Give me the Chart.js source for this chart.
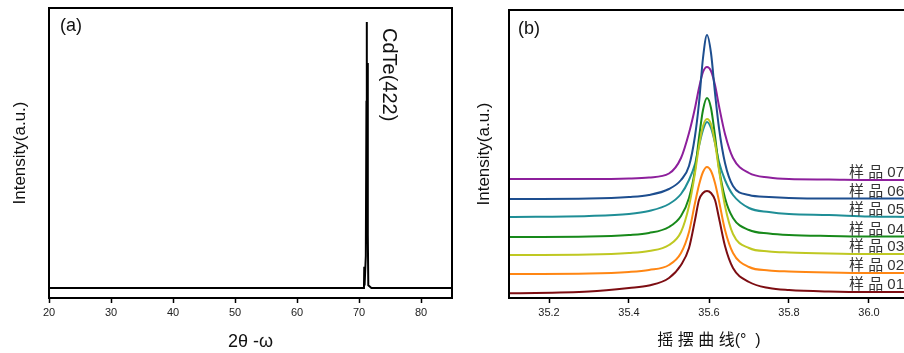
<!DOCTYPE html>
<html>
<head>
<meta charset="utf-8">
<script src="https://cdn.jsdelivr.net/npm/chart.js@4.4.1/dist/chart.umd.min.js"></script>
<style>
  html, body { margin: 0; padding: 0; background: #fff; overflow: hidden; width: 904px; height: 353px; }
  .box { position: absolute; top: 0; height: 353px; }
  #boxA { left: 0; width: 470px; }
  #boxB { left: 470px; width: 460px; }
</style>
</head>
<body>
<div class="box" id="boxA"><canvas id="chartA"></canvas></div>
<div class="box" id="boxB"><canvas id="chartB"></canvas></div>
<script>
// (a) סריקת 2θ-ω
const xrdX = [20, 40, 60, 70.8, 70.85, 70.9, 71.1, 71.2, 71.24, 71.28, 71.36, 71.42, 71.5, 72, 85];
const xrdY = [0, 0, 0, 0, 8, 1, 12, 70, 100, 74, 84.6, 20, 1, 0, 0];
const xrdTicks = [20, 30, 40, 50, 60, 70, 80];
const peakPos = 71.24;
const peakLabel = 'CdTe(422)';

// (b) עקומות נדנוד
const rockX = [35.10, 35.30, 35.40, 35.45, 35.50, 35.53, 35.55, 35.565, 35.575, 35.585, 35.595,
               35.605, 35.615, 35.625, 35.64, 35.66, 35.70, 35.75, 35.80, 35.90, 36.00, 36.10];
const sample01 = [4.7, 6.5, 10, 12.5, 20, 33, 50, 78, 98, 105, 107, 105, 98, 80, 52, 30, 16, 10, 8, 6.5, 6, 6];
const sample02 = [24, 24.5, 26, 28, 33, 45, 66, 95, 113, 126, 131, 127, 115, 97, 68, 45, 31, 27.5, 26.5, 25.5, 25, 25];
const sample03 = [43, 43.5, 45, 47, 53, 66, 92, 125, 152, 172, 179, 174, 155, 128, 92, 64, 50, 46.5, 45.5, 44.5, 44, 44];
const sample04 = [61, 61.5, 63, 65, 71, 82, 100, 128, 160, 188, 200, 190, 162, 130, 100, 80, 68, 64.5, 63, 62, 61.5, 61.5];
const sample05 = [81, 82, 84, 87, 94, 104, 118, 134, 152, 168, 176, 170, 155, 136, 118, 103, 90, 86, 84, 83, 81.5, 81];
const sample06 = [99, 99.5, 101, 103, 109, 118, 132, 162, 195, 240, 263, 245, 205, 170, 135, 112, 103, 101, 100, 99.5, 99.5, 99.5];
const sample07 = [119, 119, 119.5, 120.5, 124.5, 140, 165, 190, 210, 226, 231, 227, 213, 192, 164, 140, 125, 120.5, 119, 118.5, 118, 118];
const sampleNames = ['样 品 01', '样 品 02', '样 品 03', '样 品 04', '样 品 05', '样 品 06', '样 品 07'];
const sampleColors = ['#7d0d12', '#ff8613', '#bfc822', '#17891a', '#1f8e96', '#1d4e8f', '#8d1f9c'];
const rockTicks = [35.2, 35.4, 35.6, 35.8, 36.0];
const labelAt = 35.95;

Chart.defaults.font.family = '"Liberation Sans", Arial, sans-serif';
Chart.defaults.color = '#222';
Chart.defaults.animation = false;
Chart.defaults.devicePixelRatio = 1;

const cjkFont = '"Liberation Sans", "Noto Sans CJK SC", sans-serif';

// מסגרת סביב אזור הגרף
const framePlugin = {
  id: 'frame',
  afterDraw(chart) {
    const { ctx, chartArea: a } = chart;
    ctx.save();
    ctx.strokeStyle = '#000';
    ctx.lineWidth = 2;
    ctx.strokeRect(a.left, a.top, a.right - a.left, a.bottom - a.top);
    ctx.restore();
  }
};

function xAxis(min, max, tickVals, title, titleFont, fmt, titlePad) {
  return {
    type: 'linear', min, max,
    afterBuildTicks: s => { s.ticks = tickVals.map(v => ({ value: v })); },
    afterFit: s => { s.height = 55; },
    grid: { drawOnChartArea: false, drawTicks: true, tickLength: 5, tickColor: '#000', tickWidth: 1.5 },
    border: { display: false },
    ticks: { font: { size: 11 }, color: '#222', padding: 3, maxRotation: 0, callback: fmt },
    title: { display: true, text: title, font: titleFont, color: '#111', padding: { top: 0, bottom: titlePad } }
  };
}

function yAxis(min, max, width, titlePad) {
  return {
    type: 'linear', min, max,
    afterFit: s => { s.width = width; },
    grid: { display: false },
    border: { display: false },
    ticks: { display: false },
    title: { display: true, text: 'Intensity(a.u.)', font: { size: 17 }, color: '#111', padding: { top: titlePad, bottom: 0 } }
  };
}

// גרף (a)
new Chart(document.getElementById('chartA'), {
  type: 'line',
  data: {
    datasets: [{
      data: xrdX.map((x, i) => ({ x, y: xrdY[i] })),
      borderColor: '#000',
      borderWidth: 2,
      pointRadius: 0,
      tension: 0
    }]
  },
  options: {
    responsive: true,
    maintainAspectRatio: false,
    layout: { padding: { top: 8, right: 18, left: 0, bottom: 0 } },
    plugins: { legend: { display: false }, tooltip: { enabled: false } },
    scales: {
      x: xAxis(20, 85, xrdTicks, '2θ -ω', { size: 18 }, v => v, 0),
      y: yAxis(-3.76, 105.3, 49, 10)
    }
  },
  plugins: [framePlugin, {
    id: 'textA',
    afterDraw(chart) {
      const { ctx, chartArea: a, scales } = chart;
      ctx.save();
      ctx.fillStyle = '#111';
      ctx.font = '18px "Liberation Sans", Arial, sans-serif';
      ctx.textBaseline = 'middle';
      ctx.fillText('(a)', a.left + 11, a.top + 18);
      // תווית הפיק, מסובבת
      ctx.font = '20px "Liberation Sans", Arial, sans-serif';
      ctx.translate(scales.x.getPixelForValue(peakPos) + 22, a.top + 20);
      ctx.rotate(Math.PI / 2);
      ctx.textAlign = 'left';
      ctx.fillText(peakLabel, 0, 0);
      ctx.restore();
    }
  }]
});

// גרף (b)
const samples = [sample01, sample02, sample03, sample04, sample05, sample06, sample07];
new Chart(document.getElementById('chartB'), {
  type: 'line',
  data: {
    datasets: samples.map((s, k) => ({
      label: sampleNames[k],
      data: rockX.map((x, i) => ({ x, y: s[i] })),
      borderColor: sampleColors[k],
      borderWidth: 2,
      pointRadius: 0,
      cubicInterpolationMode: 'monotone'
    }))
  },
  options: {
    responsive: true,
    maintainAspectRatio: false,
    layout: { padding: { top: 10, right: 21, left: 0, bottom: 0 } },
    plugins: { legend: { display: false }, tooltip: { enabled: false } },
    scales: {
      x: xAxis(35.1, 36.1, rockTicks, '摇 摆 曲 线(°  )', { size: 16, family: cjkFont }, v => v.toFixed(1), 3),
      y: yAxis(0, 288, 39, 4)
    }
  },
  plugins: [framePlugin, {
    id: 'textB',
    afterDraw(chart) {
      const { ctx, chartArea: a, scales } = chart;
      ctx.save();
      ctx.fillStyle = '#111';
      ctx.font = '18px "Liberation Sans", Arial, sans-serif';
      ctx.textBaseline = 'middle';
      ctx.fillText('(b)', a.left + 9, a.top + 19);
      // שמות הדגימות ליד קו הבסיס
      ctx.fillStyle = '#333';
      ctx.font = '15px ' + cjkFont;
      ctx.textBaseline = 'alphabetic';
      samples.forEach((s, k) => {
        const y = scales.y.getPixelForValue(s[s.length - 1]) - 3;
        ctx.fillText(sampleNames[k], scales.x.getPixelForValue(labelAt), y);
      });
      ctx.restore();
    }
  }]
});
</script>
</body>
</html>
